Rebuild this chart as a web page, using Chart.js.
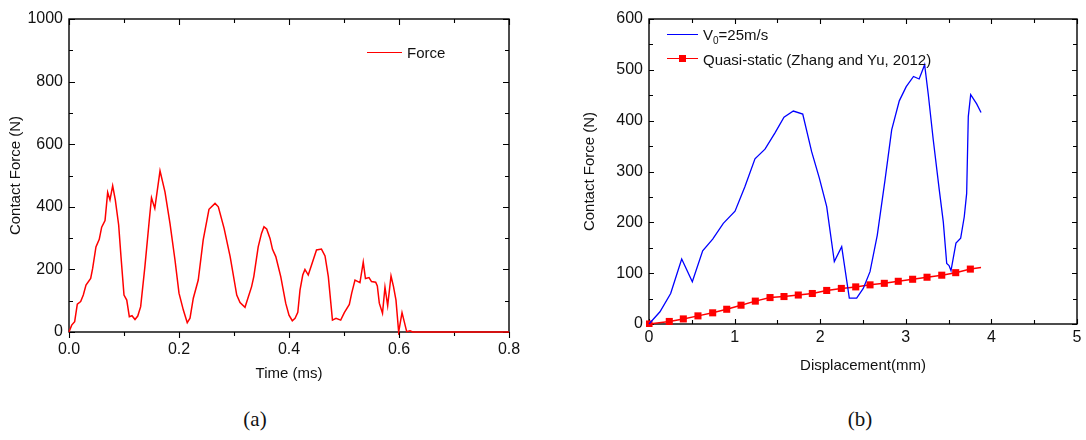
<!DOCTYPE html>
<html>
<head>
<meta charset="utf-8">
<script src="https://cdn.jsdelivr.net/npm/chart.js@4.4.1/dist/chart.umd.min.js"></script>
<style>
  html, body { margin:0; padding:0; background:#fff; }
  body { width:1086px; height:440px; position:relative; overflow:hidden; font-family:"Liberation Sans", Arial, sans-serif; color:#111; }
  .cv { position:absolute; top:0; }
  .leg { position:absolute; font-size:15px; line-height:18px; white-space:nowrap; }
  .legline { position:absolute; height:0; }
  .cap { position:absolute; font-family:"Liberation Serif", "Times New Roman", serif; font-size:21px; transform:translateX(-50%); }
</style>
</head>
<body>
<canvas id="c1" class="cv" style="left:0px" width="540" height="400"></canvas>
<canvas id="c2" class="cv" style="left:543px" width="543" height="400"></canvas>

<div class="legline" style="left:367px;top:52px;width:35px;border-top:1.5px solid #ff0000"></div>
<div class="leg" style="left:407px;top:44px">Force</div>

<div class="legline" style="left:667px;top:34px;width:31px;border-top:1.3px solid #0000ff"></div>
<div class="leg" style="left:703px;top:26px">V<sub style="font-size:10px;vertical-align:-4px">0</sub>=25m/s</div>
<div class="legline" style="left:667px;top:58px;width:31px;border-top:1.5px solid #ff0000"></div>
<div style="position:absolute;left:679px;top:55px;width:7px;height:7px;background:#ff0000"></div>
<div class="leg" style="left:703px;top:51px">Quasi-static (Zhang and Yu, 2012)</div>

<div class="cap" style="left:255px;top:407px">(a)</div>
<div class="cap" style="left:860px;top:407px">(b)</div>

<script>
// ---- Data: chart (a) ----
const timeMs = [0, 0.0049, 0.0103, 0.0151, 0.0212, 0.026, 0.0309, 0.0394, 0.043, 0.049, 0.055, 0.0594, 0.0655, 0.0703, 0.0745, 0.0794, 0.0842, 0.0903, 0.0945, 0.1, 0.105, 0.1097, 0.1145, 0.12, 0.125, 0.1303, 0.138, 0.146, 0.150, 0.156, 0.1655, 0.1745, 0.1836, 0.1927, 0.2, 0.2079, 0.215, 0.22, 0.226, 0.235, 0.244, 0.2545, 0.2655, 0.2715, 0.282, 0.293, 0.305, 0.311, 0.32, 0.332, 0.336, 0.344, 0.350, 0.3545, 0.3594, 0.3655, 0.370, 0.376, 0.385, 0.394, 0.4, 0.406, 0.411, 0.416, 0.42, 0.425, 0.429, 0.435, 0.441, 0.450, 0.459, 0.4655, 0.4715, 0.479, 0.4855, 0.494, 0.5006, 0.5097, 0.514, 0.52, 0.529, 0.535, 0.539, 0.5455, 0.550, 0.5576, 0.5606, 0.5642, 0.570, 0.5745, 0.5794, 0.5855, 0.590, 0.5945, 0.5994, 0.6055, 0.614, 0.62, 0.625, 0.7, 0.8];
const forceN = [0, 22, 33, 89, 97, 118, 150, 171, 203, 272, 296, 335, 356, 446, 422, 467, 422, 342, 241, 118, 102, 49, 52, 40, 51, 81, 209, 358, 429, 395, 515, 448, 347, 230, 124, 70, 30, 44, 108, 166, 294, 392, 411, 400, 331, 241, 118, 94, 79, 145, 177, 272, 315, 336, 329, 299, 264, 241, 177, 92, 54, 36, 44, 63, 134, 182, 200, 182, 214, 262, 265, 243, 177, 38, 44, 38, 62, 88, 124, 166, 158, 223, 171, 174, 161, 159, 147, 92, 60, 143, 84, 179, 145, 102, 0, 62, 1, 4, 0, 0, 0];
const xTicksA = [0, 0.2, 0.4, 0.6, 0.8];
const yTicksA = [0, 200, 400, 600, 800, 1000];

// ---- Data: chart (b) ----
const dispV0 = [0, 0.128, 0.253, 0.382, 0.506, 0.627, 0.744, 0.868, 1.005, 1.12, 1.238, 1.355, 1.472, 1.577, 1.686, 1.796, 1.90, 1.99, 2.076, 2.165, 2.251, 2.34, 2.426, 2.503, 2.582, 2.667, 2.757, 2.835, 2.924, 3.005, 3.09, 3.156, 3.22, 3.263, 3.321, 3.391, 3.438, 3.478, 3.505, 3.528, 3.586, 3.641, 3.683, 3.711, 3.73, 3.758, 3.828, 3.879];
const forceV0 = [0, 24, 60, 128, 83, 144, 167, 198, 222, 270, 325, 344, 376, 407, 419, 413, 339, 287, 231, 123, 152, 51, 51, 70, 103, 175, 283, 382, 439, 467, 487, 482, 510, 451, 362, 264, 201, 119, 115, 105, 159, 169, 211, 257, 408, 451, 433, 416];
const dispQS = [0, 0.237, 0.401, 0.572, 0.744, 0.908, 1.075, 1.242, 1.414, 1.577, 1.744, 1.908, 2.076, 2.247, 2.415, 2.582, 2.749, 2.912, 3.080, 3.248, 3.420, 3.583, 3.754, 3.879];
const forceQS = [0, 5, 10, 16, 22, 29, 37, 45, 52, 54, 57, 60, 66, 70, 73, 77, 80, 84, 88, 92, 96, 101, 108, 111];
const xTicksB = [0, 1, 2, 3, 4, 5];
const yTicksB = [0, 100, 200, 300, 400, 500, 600];

const FONT = { family: '"Liberation Sans", Arial, sans-serif', size: 15 };
const TFONT = { family: '"Liberation Sans", Arial, sans-serif', size: 16 };
const TXT = '#111';

// frame + ticks drawn through the chart's own scales (under the data)
const frameTicks = {
  id: 'frameTicks',
  beforeDatasetsDraw(chart, args, o) {
    const { ctx, chartArea: a, scales: { x, y } } = chart;
    ctx.save();
    ctx.strokeStyle = '#000';
    ctx.lineWidth = 1.4;
    ctx.strokeRect(a.left, a.top, a.right - a.left, a.bottom - a.top);
    ctx.lineWidth = 1.1;
    ctx.beginPath();
    const nx = Math.round((x.max - x.min) / o.xMinor);
    for (let i = 0; i <= nx; i++) {
      const v = x.min + i * o.xMinor;
      const px = Math.round(x.getPixelForValue(v)) + 0.5;
      const major = i % o.xRatio === 0;
      const len = major ? o.major : o.minor;
      const bl = o.bottomOut ? -len : len;
      ctx.moveTo(px, a.bottom); ctx.lineTo(px, a.bottom - bl);
      ctx.moveTo(px, a.top); ctx.lineTo(px, a.top + len);
    }
    const ny = Math.round((y.max - y.min) / o.yMinor);
    for (let i = 0; i <= ny; i++) {
      const v = y.min + i * o.yMinor;
      const py = Math.round(y.getPixelForValue(v)) + 0.5;
      const major = i % o.yRatio === 0;
      const len = major ? o.major : o.minor;
      ctx.moveTo(a.left, py); ctx.lineTo(a.left + len, py);
      ctx.moveTo(a.right, py); ctx.lineTo(a.right - len, py);
    }
    ctx.stroke();
    ctx.restore();
  }
};

function mkPts(xs, ys) { return xs.map((v, i) => ({ x: v, y: ys[i] })); }

new Chart(document.getElementById('c1'), {
  type: 'line',
  data: {
    datasets: [{
      label: 'Force',
      data: mkPts(timeMs, forceN),
      borderColor: '#ff0000',
      borderWidth: 1.5,
      pointRadius: 0,
      tension: 0,
      fill: false,
      clip: 3
    }]
  },
  options: {
    responsive: false,
    animation: false,
    devicePixelRatio: 1,
    layout: { padding: { left: 0, right: 31, top: 19, bottom: 0 } },
    plugins: { legend: { display: false }, tooltip: { enabled: false },
      frameTicks: { xMinor: 0.1, xRatio: 2, yMinor: 100, yRatio: 2, major: 6, minor: 4, bottomOut: true } },
    scales: {
      x: {
        type: 'linear', min: 0, max: 0.8,
        afterFit: s => { s.height = 68; },
        afterBuildTicks: s => { s.ticks = xTicksA.map(v => ({ value: v })); },
        grid: { display: false, drawTicks: false },
        border: { display: false },
        ticks: { padding: 8, font: TFONT, color: TXT, maxRotation: 0, callback: v => Number(v).toFixed(1) },
        title: { display: true, text: 'Time (ms)', font: FONT, color: TXT, padding: { top: 0, bottom: 17 } }
      },
      y: {
        type: 'linear', min: 0, max: 1000,
        afterFit: s => { s.width = 69; },
        afterBuildTicks: s => { s.ticks = yTicksA.map(v => ({ value: v })); },
        grid: { display: false, drawTicks: false },
        border: { display: false },
        ticks: { padding: 6, font: TFONT, color: TXT, callback: v => String(v) },
        title: { display: true, text: 'Contact Force (N)', font: FONT, color: TXT, padding: { top: 7, bottom: 0 } }
      }
    }
  },
  plugins: [frameTicks]
});

new Chart(document.getElementById('c2'), {
  type: 'line',
  data: {
    datasets: [{
      label: 'V0=25m/s',
      data: mkPts(dispV0, forceV0),
      borderColor: '#0000ff',
      borderWidth: 1.3,
      pointRadius: 0,
      tension: 0,
      fill: false,
      clip: 3
    }, {
      label: 'Quasi-static (Zhang and Yu, 2012)',
      data: mkPts(dispQS, forceQS),
      borderColor: '#ff0000',
      backgroundColor: '#ff0000',
      borderWidth: 1.5,
      pointStyle: 'rect',
      pointRadius: dispQS.map((v, i) => i === dispQS.length - 1 ? 0 : 5),
      pointBorderWidth: 0,
      tension: 0,
      fill: false,
      clip: 3
    }]
  },
  options: {
    responsive: false,
    animation: false,
    devicePixelRatio: 1,
    layout: { padding: { left: 0, right: 9, top: 19, bottom: 0 } },
    plugins: { legend: { display: false }, tooltip: { enabled: false },
      frameTicks: { xMinor: 0.5, xRatio: 2, yMinor: 50, yRatio: 2, major: 5, minor: 4, bottomOut: false } },
    scales: {
      x: {
        type: 'linear', min: 0, max: 5,
        afterFit: s => { s.height = 76; },
        afterBuildTicks: s => { s.ticks = xTicksB.map(v => ({ value: v })); },
        grid: { display: false, drawTicks: false },
        border: { display: false },
        ticks: { padding: 4, font: TFONT, color: TXT, maxRotation: 0, callback: v => String(v) },
        title: { display: true, text: 'Displacement(mm)', font: FONT, color: TXT, padding: { top: 0, bottom: 25 } }
      },
      y: {
        type: 'linear', min: 0, max: 600,
        afterFit: s => { s.width = 106; },
        afterBuildTicks: s => { s.ticks = yTicksB.map(v => ({ value: v })); },
        grid: { display: false, drawTicks: false },
        border: { display: false },
        ticks: { padding: 6, font: TFONT, color: TXT, callback: v => String(v) },
        title: { display: true, text: 'Contact Force (N)', font: FONT, color: TXT, padding: { top: 38, bottom: 0 } }
      }
    }
  },
  plugins: [frameTicks]
});
</script>
</body>
</html>
